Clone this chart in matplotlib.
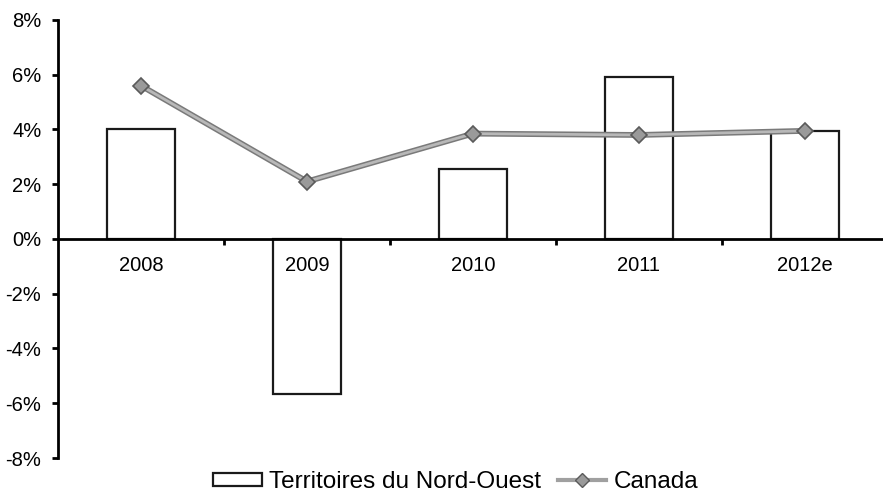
import numpy as np
import matplotlib.pyplot as plt
from matplotlib.patches import Patch
from matplotlib.lines import Line2D

# Data
years = ['2008', '2009', '2010', '2011', '2012e']
tno_growth = [4.0, -5.65, 2.55, 5.9, 3.95]     # Territoires du Nord-Ouest (%)
canada_growth = [5.6, 2.1, 3.85, 3.8, 3.95]    # Canada (%)
y_ticks = [-8, -6, -4, -2, 0, 2, 4, 6, 8]

plt.rcParams['font.family'] = ['Liberation Sans', 'DejaVu Sans']

fig = plt.figure(figsize=(8.83, 4.95), dpi=100)
ax = fig.add_axes([58 / 883, 1 - 458 / 495, 830 / 883, 438 / 495])

x = np.arange(len(years))

# bars
ax.bar(x, tno_growth, width=0.41, color='white', edgecolor='#1a1a1a',
       linewidth=1.6, zorder=2)

# Canada line: dark under-stroke with lighter grey on top to mimic texture
ax.plot(x, canada_growth, color='#7a7a7a', linewidth=4.2, zorder=3,
        solid_capstyle='round')
ax.plot(x, canada_growth, color='#b8b8b8', linewidth=2.0, zorder=4,
        solid_capstyle='round')
ax.plot(x, canada_growth, linestyle='none', marker='D', markersize=8.5,
        markerfacecolor='#9a9a9a', markeredgecolor='#5a5a5a',
        markeredgewidth=1.2, zorder=5)

ax.set_xlim(-0.5, len(years) - 0.5)
ax.set_ylim(-8, 8)

# axes styling
for side in ['top', 'right']:
    ax.spines[side].set_visible(False)
ax.spines['bottom'].set_position(('data', 0))
ax.spines['bottom'].set_linewidth(2.0)
ax.spines['left'].set_linewidth(2.0)
ax.spines['bottom'].set_zorder(6)
ax.xaxis.set_zorder(7)

ax.set_yticks(y_ticks)
ax.set_yticklabels([f'{v}%' for v in y_ticks], fontsize=14.5)
ax.tick_params(axis='y', direction='out', length=4, width=2, pad=8)

ax.set_xticks(x)
ax.set_xticklabels(years, fontsize=14.5)
ax.tick_params(axis='x', which='major', length=0, pad=12)
ax.set_xticks(np.arange(0.5, len(years) - 0.5, 1.0), minor=True)
ax.tick_params(axis='x', which='minor', direction='out', length=4, width=2)

handles = [
    Patch(facecolor='white', edgecolor='#1a1a1a', linewidth=1.6,
          label='Territoires du Nord-Ouest'),
    Line2D([0], [0], color='#a0a0a0', linewidth=3, marker='D',
           markersize=7, markerfacecolor='#9a9a9a',
           markeredgecolor='#5a5a5a', label='Canada'),
]
fig.legend(handles=handles, loc='center', bbox_to_anchor=(0.516, 0.026),
           ncol=2, frameon=False, fontsize=17.5, handlelength=2.0,
           handleheight=0.5, handletextpad=0.3, columnspacing=0.7,
           borderpad=0.1)

fig.savefig('out.png', dpi=100)
